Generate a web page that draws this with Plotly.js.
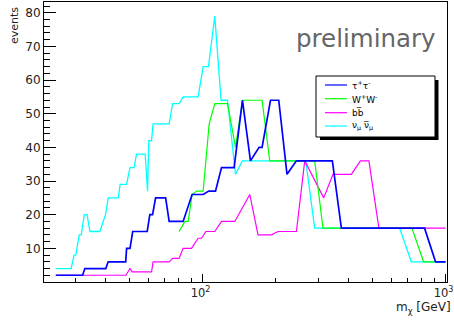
<!DOCTYPE html>
<html>
<head>
<meta charset="utf-8">
<script src="https://cdn.plot.ly/plotly-3.0.1.min.js"></script>
<style>html,body{margin:0;padding:0;background:#fff;}#chart{width:454px;height:325px;}</style>
</head>
<body>
<div id="chart"></div>
<script>
// ---- data (m_chi in GeV, events) ----
const tauX = [24.9, 32.1, 32.8, 40.0, 40.9, 48.3, 48.7, 50.3, 51.6, 59.2, 60.7, 62.3, 64.1, 70.5, 72.9, 83.2, 90.6, 100.6, 106.1, 113.1, 119.7, 134.9, 146.0, 157.5, 170.9, 175.8, 190.4, 205.9, 222.7, 243.4, 342.2, 372.7, 819.8, 909.6, 1000];
const tauY = [2, 2, 4, 4, 6, 6, 10, 10, 15, 15, 20, 20, 25, 25, 18, 18, 26, 26, 27, 27, 34, 34, 54, 36, 40, 40, 54, 54, 32, 36, 36, 16, 16, 6, 6];

const wwX = [80.1, 84.6, 87.3, 90.6, 94.5, 100.6, 106.5, 112.3, 126.7, 136.7, 146.0, 175.8, 189.1, 289.4, 313.1, 726.9, 812.1, 1000];
const wwY = [15, 18, 18, 26, 27, 27, 47, 53, 53, 40, 54, 54, 36, 36, 16, 16, 6, 6];

const bbX = [24.9, 48.4, 50.3, 51.4, 61.7, 62.6, 72.9, 75.3, 80.1, 83.2, 90.1, 95.9, 99.1, 103.2, 112.3, 119.7, 135.8, 156.5, 169.2, 192.2, 204.5, 243.4, 263.4, 315.2, 344.2, 409.7, 446.1, 483.8, 531.9, 1000];
const bbY = [2, 2, 4, 3, 3, 6, 6, 7, 7, 10, 10, 13, 13, 15, 15, 18, 18, 26, 14, 14, 15, 15, 36, 25, 32, 32, 36, 36, 16, 16];

const nuX = [24.9, 28.8, 29.6, 30.1, 31.1, 31.7, 32.6, 33.5, 34.4, 37.8, 39.9, 40.9, 45.0, 45.8, 48.7, 50.3, 52.3, 53.5, 58.1, 59.4, 60.1, 61.7, 62.6, 72.9, 75.3, 80.1, 83.2, 95.9, 100.6, 105.8, 112.3, 119.2, 126.7, 136.7, 145.8, 265.9, 289.4, 647.1, 722.8, 1000];
const nuY = [4, 4, 8, 8, 14, 14, 20, 20, 15, 15, 20, 25, 25, 29, 29, 34, 34, 38, 38, 27, 42, 42, 47, 47, 53, 53, 55, 55, 64, 64, 79, 54, 54, 32, 36, 36, 16, 16, 6, 6];

const seriesNames = ['τ<sup>+</sup>τ<sup>-</sup>', 'W<sup>+</sup>W<sup>-</sup>', 'bb\u0305', 'ν<sub>μ</sub> ν\u0305<sub>μ</sub>'];
const seriesColors = ['#0000ff', '#00ff00', '#ff00ff', '#00ffff'];

const yTickVals = [10, 20, 30, 40, 50, 60, 70, 80];
const yMinorVals = [2,4,6,8,12,14,16,18,22,24,26,28,32,34,36,38,42,44,46,48,52,54,56,58,62,64,66,68,72,74,76,78,82];
const xTickVals = [100, 1000];
const xTickText = ['10<sup>2</sup>', '10<sup>3</sup>'];
const xMinorVals = [30,40,50,60,70,80,90,200,300,400,500,600,700,800,900];

// ---- layout geometry ----
const ML = 44, MR = 7, MT = 2, MB = 43, W = 454, H = 325;
const PW = W - ML - MR, PH = H - MT - MB;
const px = v => (v - ML) / PW;
const py = v => (H - MB - v) / PH;

const xs = [tauX, wwX, bbX, nuX], ys = [tauY, wwY, bbY, nuY];
const widths = [1.7, 1.2, 1.2, 1.3];
const order = [3, 2, 1, 0];
const traces = order.map(i => ({
  x: xs[i], y: ys[i], type: 'scatter', mode: 'lines', name: seriesNames[i],
  line: {color: seriesColors[i], width: widths[i]}, showlegend: false, hoverinfo: 'skip'
}));

const shapes = [
  {type:'rect', xref:'paper', yref:'paper', x0:px(320), x1:px(438.5), y0:py(140), y1:py(80), fillcolor:'#000', line:{width:0}},
  {type:'rect', xref:'paper', yref:'paper', x0:px(316), x1:px(435), y0:py(137), y1:py(76), fillcolor:'#fff', line:{color:'#000', width:1}}
];
const rows = [85, 98.7, 112.7, 126];
const annotations = [];
seriesNames.forEach((n, i) => {
  shapes.push({type:'line', xref:'paper', yref:'paper', x0:px(325), x1:px(347), y0:py(rows[i]), y1:py(rows[i]), line:{color:seriesColors[i], width:1.2}});
  annotations.push({xref:'paper', yref:'paper', x:px(350), y:py(rows[i]), xanchor:'left', yanchor:'middle', text:n, showarrow:false, font:{family:'DejaVu Sans', size:9, color:'#000'}});
});
annotations.push({xref:'paper', yref:'paper', x:px(294), y:py(39), xanchor:'left', yanchor:'middle', text:'preliminary', showarrow:false, font:{family:'DejaVu Sans', size:24.5, color:'#666'}});
annotations.push({xref:'paper', yref:'paper', x:px(14), y:py(26), xanchor:'center', yanchor:'middle', textangle:-90, text:'events', showarrow:false, font:{family:'DejaVu Sans', size:11, color:'#222'}});
annotations.push({xref:'paper', yref:'paper', x:px(453), y:py(308), xanchor:'right', yanchor:'middle', text:'m<sub>χ</sub> [GeV]', showarrow:false, font:{family:'DejaVu Sans', size:12, color:'#222'}});

const layout = {
  width: W, height: H,
  margin: {l: ML, r: MR, t: MT, b: MB, pad: 0},
  paper_bgcolor: '#fff', plot_bgcolor: '#fff',
  showlegend: false,
  font: {family: 'DejaVu Sans', size: 12, color: '#222'},
  xaxis: {
    type: 'log', range: [1.3477, 3.006], showgrid: false, zeroline: false,
    showline: true, mirror: true, linecolor: '#000', linewidth: 1,
    tickmode: 'array', tickvals: xTickVals, ticktext: xTickText,
    ticks: 'inside', ticklen: 8, tickwidth: 1, tickcolor: '#000',
    ticklabeloverflow: 'allow', ticklabelshift: -2,
    tickfont: {family: 'DejaVu Sans', size: 11.5, color: '#222'},
    minor: {tickmode: 'array', tickvals: xMinorVals, ticks: 'inside', ticklen: 4, tickwidth: 1, tickcolor: '#000', showgrid: false}
  },
  yaxis: {
    range: [0, 83.2], showgrid: false, zeroline: false,
    showline: true, mirror: true, linecolor: '#000', linewidth: 1,
    tickmode: 'array', tickvals: yTickVals,
    ticks: 'inside', ticklen: 12, tickwidth: 1, tickcolor: '#000',
    tickfont: {family: 'DejaVu Sans', size: 12, color: '#222'},
    minor: {tickmode: 'array', tickvals: yMinorVals, ticks: 'inside', ticklen: 6, tickwidth: 1, tickcolor: '#000', showgrid: false}
  },
  shapes: shapes,
  annotations: annotations
};

Plotly.newPlot('chart', traces, layout, {staticPlot: true, displayModeBar: false});
</script>
</body>
</html>
